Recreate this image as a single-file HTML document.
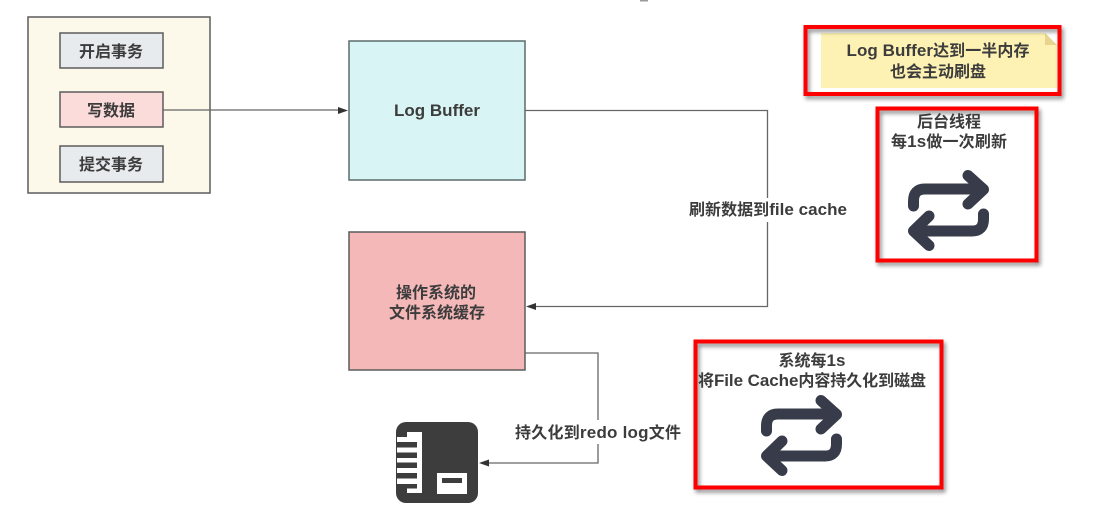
<!DOCTYPE html>
<html>
<head>
<meta charset="utf-8">
<style>
html,body{margin:0;padding:0;background:#fff;width:1117px;height:513px;overflow:hidden}
svg{display:block;filter:blur(.35px)}
text{font-family:"Liberation Sans","Noto Sans CJK SC",sans-serif;font-size:16px;font-weight:700;fill:#3c3c3c;text-anchor:middle}
tspan{font-size:17px}
</style>
</head>
<body>
<svg width="1117" height="513" viewBox="0 0 1117 513" xmlns="http://www.w3.org/2000/svg">
<defs>
<filter id="sh" x="-10%" y="-10%" width="125%" height="125%"><feDropShadow dx="2" dy="3" stdDeviation="2" flood-color="#000" flood-opacity=".45"/></filter>
<g id="loop" fill="none" stroke="#383c4a" stroke-width="11" stroke-linecap="round" stroke-linejoin="round">
<path d="M5.500 36V31Q5.500 19 17 19H75"/><path d="M60 5.500L75.500 19.500L60 34"/>
<path d="M75.500 44V49Q75.500 61 64 61H6"/><path d="M21 75.500L5.500 61L21 46"/>
</g>
</defs>

<rect x="28" y="17" width="182" height="176" fill="#fcf9ea" stroke="#5c5c5c" stroke-width="1.500"/>
<rect x="60" y="33" width="103" height="35" fill="#e7ebee" stroke="#5c5c5c" stroke-width="1.500"/>
<rect x="60" y="92" width="103" height="35" fill="#fcdcdb" stroke="#5c5c5c" stroke-width="1.500"/>
<rect x="60" y="146" width="103" height="36" fill="#e7ebee" stroke="#5c5c5c" stroke-width="1.500"/>
<text x="111" y="57">开启事务</text>
<text x="111" y="116">写数据</text>
<text x="111" y="170">提交事务</text>

<rect x="349" y="41" width="176" height="139" fill="#d9f4f4" stroke="#5c6b6b" stroke-width="1.500"/>
<text x="437" y="116"><tspan>Log Buffer</tspan></text>

<rect x="349" y="232" width="176" height="138" fill="#f5b8b8" stroke="#5c5c5c" stroke-width="1.500"/>
<text x="436" y="298">操作系统的</text>
<text x="437" y="318">文件系统缓存</text>

<g fill="none" stroke="#666" stroke-width="1.300">
<path d="M163 110H340"/>
<path d="M525 110.500H767.500V306.500H534"/>
<path d="M525 353H598V463H487"/>
</g>
<g fill="#333">
<path d="M348 110.500L338 107V114Z"/>
<path d="M526 306.500L536 303V310Z"/>
<path d="M479 463L489 459.500V466.500Z"/>
</g>

<rect x="686" y="198" width="163" height="24" fill="#fff"/>
<text x="768" y="215" textLength="158" lengthAdjust="spacing">刷新数据到<tspan>file cache</tspan></text>
<rect x="512" y="420" width="172" height="24" fill="#fff"/>
<text x="598" y="438" textLength="166" lengthAdjust="spacing">持久化到<tspan>redo log</tspan>文件</text>

<rect x="396" y="422" width="82" height="81" rx="10" fill="#3d3d3d"/>
<rect x="407" y="432" width="15" height="61" fill="#fff"/>
<rect x="397" y="437" width="20" height="47" fill="#fff"/>
<g fill="#3d3d3d">
<rect x="397" y="442" width="20" height="5.500"/>
<rect x="397" y="452.500" width="20" height="5.500"/>
<rect x="397" y="462.500" width="20" height="5.500"/>
<rect x="397" y="473" width="20" height="5.500"/>
<rect x="407" y="484" width="10" height="4.500"/>
</g>
<rect x="437" y="473" width="30" height="21" fill="#fff"/>
<rect x="442" y="478" width="20" height="5" fill="#3d3d3d"/>

<path d="M821 33H1045L1057 45V88H821Z" fill="#fdf2b3"/>
<path d="M1045 33L1057 45H1045Z" fill="#e6d48f"/>
<rect x="805.500" y="27" width="254" height="67" fill="none" stroke="#f00" stroke-width="4" filter="url(#sh)"/>
<text x="938" y="56" textLength="183" lengthAdjust="spacing"><tspan>Log Buffer</tspan>达到一半内存</text>
<text x="938" y="77">也会主动刷盘</text>

<rect x="877.500" y="108.500" width="159" height="152" fill="none" stroke="#f00" stroke-width="4" filter="url(#sh)"/>
<text x="949" y="127">后台线程</text>
<text x="949" y="147" textLength="116" lengthAdjust="spacing">每<tspan>1s</tspan>做一次刷新</text>
<use href="#loop" x="908" y="170"/>

<rect x="695.500" y="341.500" width="246" height="146" fill="none" stroke="#f00" stroke-width="4" filter="url(#sh)"/>
<text x="812" y="366">系统每<tspan>1s</tspan></text>
<text x="812" y="386" textLength="228" lengthAdjust="spacing">将<tspan>File Cache</tspan>内容持久化到磁盘</text>
<use href="#loop" x="761" y="395"/>

<rect x="640" y="0" width="8" height="1.500" fill="#999"/>
</svg>
</body>
</html>
